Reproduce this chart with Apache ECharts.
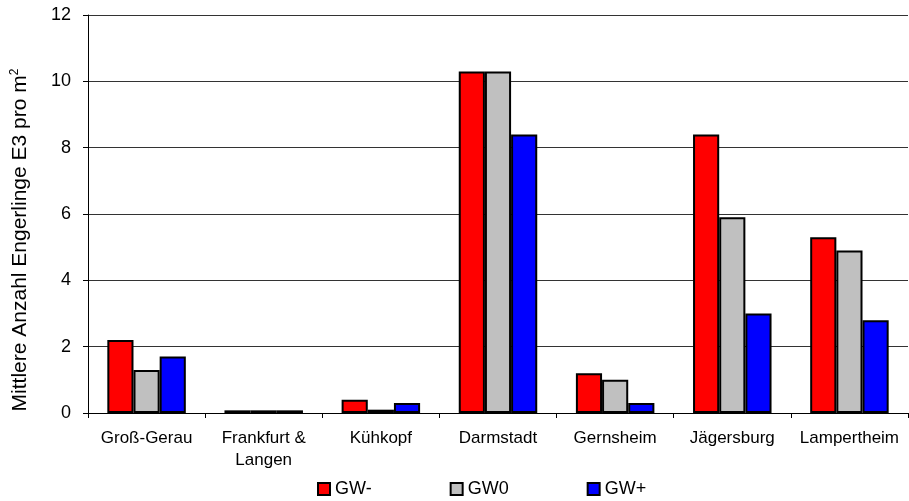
<!DOCTYPE html>
<html><head><meta charset="utf-8">
<script src="https://cdn.jsdelivr.net/npm/echarts@6/dist/echarts.min.js"></script>
<style>html,body{margin:0;padding:0;background:#fff}#c{width:909px;height:501px}</style>
</head><body><div id="c"></div>
<script>
const categories = ['Groß-Gerau', 'Frankfurt &\nLangen', 'Kühkopf', 'Darmstadt', 'Gernsheim', 'Jägersburg', 'Lampertheim'];
const gwMinus = [2.2, 0.08, 0.4, 10.3, 1.2, 8.4, 5.3];
const gwZero = [1.3, 0.08, 0.1, 10.3, 1.0, 5.9, 4.9];
const gwPlus = [1.7, 0.08, 0.3, 8.4, 0.3, 3.0, 2.8];
const seriesNames = ['GW-', 'GW0', 'GW+'];
const colors = ['#ff0000', '#c0c0c0', '#0000ff'];

const chart = echarts.init(document.getElementById('c'), null, {renderer: 'canvas'});
const font = 'Liberation Sans, Arial, sans-serif';
const mk = (name, data, color) => ({
  name, type: 'bar', data, barGap: '0%', barCategoryGap: '33%',
  itemStyle: {color, borderColor: '#000', borderWidth: 2},
  animation: false
});
chart.setOption({
  animation: false,
  grid: {left: 88, right: 1, top: 15, bottom: 88, containLabel: false},
  legend: {
    top: 475, left: 312, itemGap: 78, itemWidth: 12, itemHeight: 12,
    icon: 'rect',
    textStyle: {fontFamily: font, fontSize: 18, color: '#000'},
    itemStyle: {borderColor: '#000', borderWidth: 2},
    data: seriesNames
  },
  xAxis: {
    type: 'category', data: categories,
    axisLine: {lineStyle: {color: '#000', width: 1}},
    axisTick: {show: true, length: 5, lineStyle: {color: '#000'}},
    axisLabel: {fontFamily: font, fontSize: 17, color: '#000', margin: 14, lineHeight: 22, interval: 0}
  },
  yAxis: {
    type: 'value', min: 0, max: 12, interval: 2,
    name: 'Mittlere Anzahl Engerlinge E3 pro m{sup|2}',
    nameLocation: 'middle', nameGap: 57, nameRotate: 90,
    nameTextStyle: {fontFamily: font, fontSize: 21, color: '#000', padding: [0, 52, 0, 0],
      rich: {sup: {fontFamily: font, fontSize: 12, color: '#000', verticalAlign: 'top', padding: [0, 0, 10, 0]}}},
    axisLine: {show: true, lineStyle: {color: '#000', width: 1}},
    axisTick: {show: true, length: 5, lineStyle: {color: '#000'}},
    axisLabel: {fontFamily: font, fontSize: 18, color: '#000', margin: 17},
    splitLine: {show: true, lineStyle: {color: '#333', width: 1}}
  },
  series: [
    mk(seriesNames[0], gwMinus, colors[0]),
    mk(seriesNames[1], gwZero, colors[1]),
    mk(seriesNames[2], gwPlus, colors[2])
  ]
});
</script></body></html>
